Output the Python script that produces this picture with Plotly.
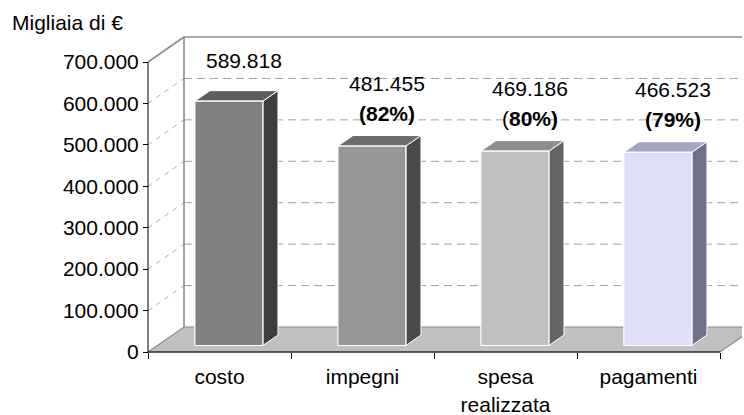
import plotly.graph_objects as go

# ---------------- data ----------------
categories = ["costo", "impegni", "spesa<br>realizzata", "pagamenti"]
values = [589818, 481455, 469186, 466523]
value_labels = ["589.818", "481.455", "469.186", "466.523"]
pct_labels = ["", "<b>(82%)</b>", "(<b>80%)</b>", "<b>(79%)</b>"]
y_tickvals = [0, 100000, 200000, 300000, 400000, 500000, 600000, 700000]
y_ticktext = ["0", "100.000", "200.000", "300.000", "400.000", "500.000", "600.000", "700.000"]
axis_label = "Migliaia di €"

# ---------------- style ----------------
front_colors = ["#808080", "#969696", "#c0c0c0", "#dedefa"]
top_colors = ["#5e5e5e", "#6c6c6c", "#8e8e8e", "#a6a6c0"]
side_colors = ["#3e3e3e", "#4a4a4a", "#646464", "#70708a"]
FONT = "Liberation Sans, Arial, sans-serif"
FS = 21

# ---------------- geometry (pixels) ----------------
W, H = 744, 415
AX_X, AX_Y = 148, 352          # front axis corner
CAT_PX = 143.0                 # px per category
YMAX_AX = 700000
VAL_PX = 290.0 / YMAX_AX       # px per value unit
DEPTH_X, DEPTH_Y = 36.0, 25.0  # 3D depth offset in px
PAD = 8
PLOT_L, PLOT_R, PLOT_T, PLOT_B = AX_X - PAD, 742, 30, AX_Y + PAD

DX = DEPTH_X / CAT_PX
DY = DEPTH_Y / VAL_PX
HW = 34.0 / CAT_PX
D0, D1 = 0.26, 0.68

xr = [-0.5 - PAD / CAT_PX, -0.5 + (PLOT_R - AX_X) / CAT_PX]
yr = [-PAD / VAL_PX, (AX_Y - PLOT_T) / VAL_PX]
n = len(values)
xl, xe = -0.5, n - 0.5
ytop = y_tickvals[-1]

fig = go.Figure()


def poly(xs, ys, fill, line="rgba(0,0,0,0)", lw=1):
    fig.add_trace(go.Scatter(x=xs + [xs[0]], y=ys + [ys[0]], mode="lines", fill="toself",
                             fillcolor=fill, line=dict(color=line, width=lw),
                             hoverinfo="skip", showlegend=False))


def seg(xs, ys, color, width=1, dash="solid"):
    fig.add_trace(go.Scatter(x=xs, y=ys, mode="lines", line=dict(color=color, width=width, dash=dash),
                             hoverinfo="skip", showlegend=False))


# floor
poly([xl, xe, xe + DX, xl + DX], [0, 0, DY, DY], "#c0c0c0", "#888888", 1.2)

# left wall dashed diagonals and back wall dashed gridlines
for v in y_tickvals[1:-1]:
    seg([xl, xl + DX], [v, v + DY], "#b0b0b0", 1, "5px,5px")
    seg([xl + DX, xr[1]], [v + DY, v + DY], "#a0a0a0", 1, "8px,5px")

# wall edges
seg([xl, xl + DX], [ytop, ytop + DY], "#8c8c8c", 1.6)
seg([xl + DX, xr[1]], [ytop + DY, ytop + DY], "#8c8c8c", 1.6)
seg([xl + DX, xl + DX], [DY, ytop + DY], "#8c8c8c", 1.6)

# bars
for i, v in enumerate(values):
    fl = i - HW + D0 * DX
    fr = i + HW + D0 * DX
    fb = D0 * DY
    ft = v + D0 * DY
    ddx = (D1 - D0) * DX
    ddy = (D1 - D0) * DY
    poly([fr, fr + ddx, fr + ddx, fr], [fb, fb + ddy, ft + ddy, ft], side_colors[i], "white", 1)
    poly([fl, fr, fr + ddx, fl + ddx], [ft, ft, ft + ddy, ft + ddy], top_colors[i], "white", 1)
    poly([fl, fr, fr, fl], [fb, fb, ft, ft], front_colors[i], "white", 1.2)

# front axes
seg([xl, xl], [0, ytop], "black", 1)
seg([xl, xe], [0, 0], "black", 1)

# data labels
for i, v in enumerate(values):
    lx = i + D1 * DX
    ly = v + D1 * DY
    has_pct = bool(pct_labels[i])
    fig.add_annotation(x=lx, y=ly, text=value_labels[i], showarrow=False, yanchor="middle",
                       yshift=52 if has_pct else 30, font=dict(family=FONT, size=FS, color="black"))
    if has_pct:
        fig.add_annotation(x=lx, y=ly, text=pct_labels[i], showarrow=False, yanchor="middle",
                           yshift=22, font=dict(family=FONT, size=FS, color="black"))

plot_w = W - PLOT_L - (W - PLOT_R)
plot_h = PLOT_B - PLOT_T

# axis title at top-left
fig.add_annotation(text=axis_label, xref="paper", yref="paper", showarrow=False,
                   x=(10 - PLOT_L) / plot_w, xanchor="left",
                   y=(PLOT_B - 23) / plot_h, yanchor="middle",
                   font=dict(family=FONT, size=FS, color="black"))

fig.update_layout(
    width=W, height=H,
    margin=dict(l=PLOT_L, r=W - PLOT_R, t=PLOT_T, b=H - PLOT_B, pad=0, autoexpand=False),
    paper_bgcolor="white", plot_bgcolor="white",
    separators=",.",
    font=dict(family=FONT, size=FS, color="black"),
    xaxis=dict(range=xr, showgrid=False, zeroline=False, showline=False, automargin=False,
               tickmode="array", tickvals=list(range(n)), ticktext=categories,
               ticks="outside", ticklen=6, tickcolor="rgba(0,0,0,0)",
               anchor="free", position=PAD / plot_h,
               minor=dict(tickmode="array", tickvals=[k - 0.5 for k in range(n + 1)],
                          ticks="outside", ticklen=6, tickcolor="black", tickwidth=1, showgrid=False),
               fixedrange=True),
    yaxis=dict(range=yr, showgrid=False, zeroline=False, showline=False, automargin=False,
               tickmode="array", tickvals=y_tickvals, ticktext=y_ticktext,
               ticks="outside", ticklen=5, tickcolor="black", tickwidth=1,
               anchor="free", position=PAD / plot_w, fixedrange=True),
)

fig.write_html("out.html", config={"displayModeBar": False},
               post_script="document.body.style.margin='0';")
